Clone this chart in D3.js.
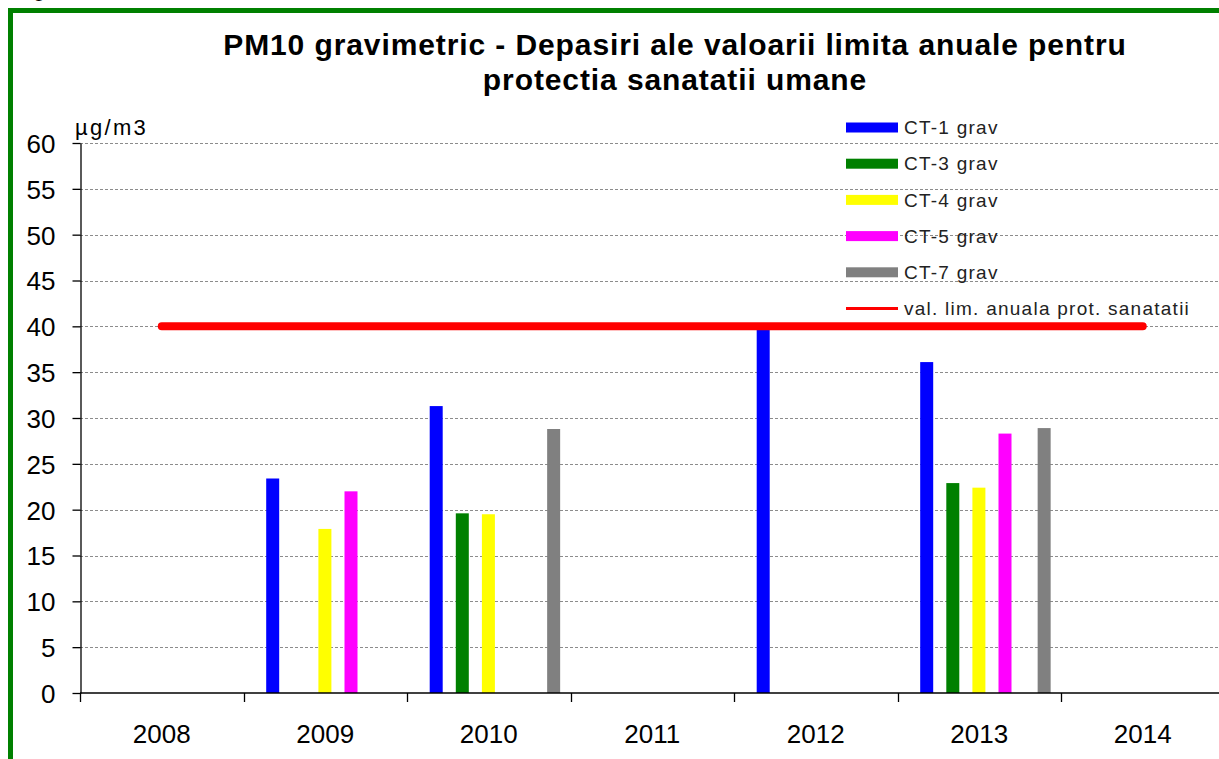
<!DOCTYPE html>
<html>
<head>
<meta charset="utf-8">
<script src="https://cdn.jsdelivr.net/npm/d3@7"></script>
<style>
  body { margin: 0; background: #fff; }
  svg { display: block; font-family: Arial, "Liberation Sans", sans-serif; }
</style>
</head>
<body>
<svg id="chart"></svg>
<script>
// data
const years = ["2008", "2009", "2010", "2011", "2012", "2013", "2014"];
const seriesNames = ["CT-1 grav", "CT-3 grav", "CT-4 grav", "CT-5 grav", "CT-7 grav"];
const seriesColors = ["#0000ff", "#008000", "#ffff00", "#ff00ff", "#808080"];
// null = no value for that year
const ct1 = [null, 23.4, 31.3, null, 39.9, 36.1, null];
const ct3 = [null, null, 19.6, null, null, 22.9, null];
const ct4 = [null, 17.9, 19.5, null, null, 22.4, null];
const ct5 = [null, 22.0, null, null, null, 28.3, null];
const ct7 = [null, null, 28.8, null, null, 28.9, null];
const limitName = "val. lim. anuala prot. sanatatii";
const limitValues = [40, 40, 40, 40, 40, 40, 40];
const yTicks = [0, 5, 10, 15, 20, 25, 30, 35, 40, 45, 50, 55, 60];

const allSeries = [ct1, ct3, ct4, ct5, ct7];

const w = 1219, h = 759;
const margin = { top: 143, left: 80, bottom: 66 };

const svg = d3.select("#chart").attr("width", w).attr("height", h);

// outer green frame (runs off the right / bottom of the picture)
svg.append("rect")
    .attr("x", 10.5).attr("y", 10.5)
    .attr("width", 1300).attr("height", 900)
    .attr("fill", "none")
    .attr("stroke", "#008000")
    .attr("stroke-width", 5);

// cut-off caption above the frame
svg.append("text")
    .attr("x", 33).attr("y", -4)
    .style("font-size", "22px")
    .text("g");

const xScale = d3.scaleBand()
    .domain(years)
    .range([margin.left, 1224.5])
    .padding(0);

const yScale = d3.scaleLinear()
    .domain([0, 60])
    .range([h - margin.bottom, margin.top]);

// position of each series inside a year band
const slotScale = d3.scaleLinear().domain([0, 1]).range([22.7, 48.8]);
const seriesSlot = [0, 1, 2, 3, 4.5];
const barWidth = 13;

// dashed gridlines
svg.append("g")
    .selectAll("line")
    .data(yTicks.filter(d => d > 0))
    .join("line")
    .attr("x1", margin.left).attr("x2", w)
    .attr("y1", d => Math.round(yScale(d)) + 0.5)
    .attr("y2", d => Math.round(yScale(d)) + 0.5)
    .attr("stroke", "#8c8c8c")
    .attr("stroke-width", 1)
    .attr("stroke-dasharray", "3,2");

// bars
const bars = [];
allSeries.forEach((values, s) => {
    values.forEach((v, i) => {
        if (v !== null) bars.push({ year: years[i], value: v, s: s });
    });
});

svg.append("g")
    .selectAll("rect")
    .data(bars)
    .join("rect")
    .attr("x", d => xScale(d.year) + slotScale(seriesSlot[d.s]))
    .attr("y", d => yScale(d.value))
    .attr("width", barWidth)
    .attr("height", d => yScale(0) - yScale(d.value))
    .attr("fill", d => seriesColors[d.s]);

// limit line
const limitLine = d3.line()
    .x((d, i) => xScale(years[i]) + xScale.bandwidth() / 2)
    .y(d => yScale(d));

svg.append("path")
    .datum(limitValues)
    .attr("d", limitLine)
    .attr("fill", "none")
    .attr("stroke", "#ff0000")
    .attr("stroke-width", 8)
    .attr("stroke-linecap", "round");

// y axis
const yAxis = g => g
    .attr("transform", `translate(${margin.left + 0.5},0)`)
    .call(d3.axisLeft(yScale).tickValues(yTicks).tickSize(8).tickPadding(17).tickSizeOuter(0))
    .call(g => g.selectAll("text").style("font-size", "26px").attr("fill", "#000").attr("dy", "0.36em"))
    .call(g => g.selectAll("line, path").attr("stroke", "#000").attr("stroke-width", 1.3));

svg.append("g").call(yAxis);

// x axis: ticks sit on the band edges
const xAxisG = svg.append("g")
    .attr("transform", `translate(0,${yScale(0)})`);

xAxisG.append("line")
    .attr("x1", margin.left).attr("x2", w)
    .attr("stroke", "#000").attr("stroke-width", 1.5);

xAxisG.selectAll(".tick")
    .data(years)
    .join("line")
    .attr("class", "tick")
    .attr("x1", d => Math.round(xScale(d)) + 0.5)
    .attr("x2", d => Math.round(xScale(d)) + 0.5)
    .attr("y1", 0).attr("y2", 9)
    .attr("stroke", "#000").attr("stroke-width", 1.3);

xAxisG.selectAll(".lbl")
    .data(years)
    .join("text")
    .attr("class", "lbl")
    .attr("x", d => xScale(d) + xScale.bandwidth() / 2)
    .attr("y", 50)
    .attr("text-anchor", "middle")
    .style("font-size", "26px")
    .text(d => d);

// unit label
svg.append("text")
    .attr("x", 75).attr("y", 135)
    .style("font-size", "22px")
    .style("letter-spacing", "2.3px")
    .text("µg/m3");

// title
const title = svg.append("text")
    .attr("text-anchor", "middle")
    .style("font-size", "30px")
    .style("font-weight", "bold")
    .style("letter-spacing", "0.9px");
title.append("tspan").attr("x", 675).attr("y", 55)
    .text("PM10 gravimetric - Depasiri ale valoarii limita anuale pentru");
title.append("tspan").attr("x", 675).attr("y", 90)
    .text("protectia sanatatii umane");

// legend (no background, gridlines show through)
const legend = svg.append("g").attr("transform", "translate(846,127.5)");
const rowH = 36.2;

legend.selectAll("rect")
    .data(seriesNames)
    .join("rect")
    .attr("x", 0)
    .attr("y", (d, i) => i * rowH - 5)
    .attr("width", 52)
    .attr("height", 10)
    .attr("fill", (d, i) => seriesColors[i]);

legend.append("line")
    .attr("x1", 0).attr("x2", 52)
    .attr("y1", seriesNames.length * rowH)
    .attr("y2", seriesNames.length * rowH)
    .attr("stroke", "#ff0000")
    .attr("stroke-width", 3);

legend.selectAll("text")
    .data(seriesNames.concat([limitName]))
    .join("text")
    .attr("x", 58)
    .attr("y", (d, i) => i * rowH)
    .attr("dy", "0.35em")
    .style("font-size", "19px")
    .style("letter-spacing", "1.25px")
    .attr("fill", "#222")
    .text(d => d);
</script>
</body>
</html>
